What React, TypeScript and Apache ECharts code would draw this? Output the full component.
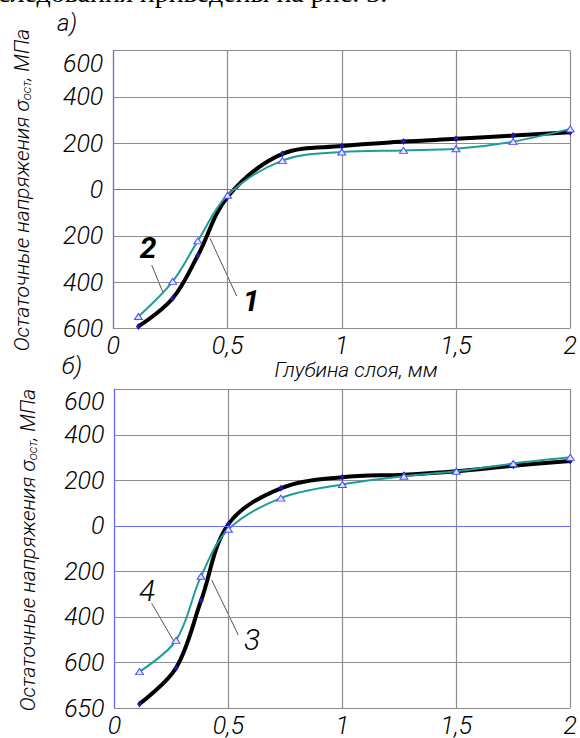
import React, { useEffect, useRef } from "react";
import * as echarts from "echarts";

// Panel а) — curves 1 (black) and 2 (teal)
const xTop = [0.11, 0.26, 0.37, 0.5, 0.74, 1.0, 1.27, 1.5, 1.75, 2.0];
const curve1 = [-592, -470, -285, -32, 154, 188, 207, 219, 233, 248];
const curve2 = [-549, -397, -222, -25, 125, 162, 169, 176, 207, 262];

// Panel б) — curves 3 (black) and 4 (teal); axis positions (bottom tick labelled 650)
const xBottom = [0.11, 0.27, 0.38, 0.5, 0.73, 1.0, 1.27, 1.5, 1.75, 2.0];
const curve3 = [-782, -624, -328, 8, 165, 214, 225, 240, 264, 285];
const curve4 = [-640, -503, -221, -15, 122, 182, 218, 240, 274, 301];

const xTicks = [0, 0.5, 1, 1.5, 2];
const topYTicks = [600, 400, 200, 0, 200, 400, 600];
const bottomYTicks = [600, 400, 200, 0, 200, 400, 600, 650];

const FONT = "Roboto, 'Liberation Sans Narrow', sans-serif";
const WEIGHT = 300;
const GRID_COLOR = "#8c8c8c";
const BLUE_AXIS = "#6b6bff";
const TEAL = "#1f9c9a";
const BLACK = "#000000";

const pair = (xs: number[], ys: number[]) => xs.map((x, i) => [x, ys[i]]);

export default function App() {
  const ref = useRef<HTMLDivElement>(null);
  useEffect(() => {
    if (!ref.current) return;
    const chart = echarts.init(ref.current, undefined, { renderer: "svg" });

    const labelStyle = {
      fontFamily: FONT,
      fontStyle: "italic" as const,
      fontWeight: WEIGHT,
      fontSize: 25,
      color: "#000",
    };

    const xAxisBase = (gi: number) => ({
      type: "value" as const,
      gridIndex: gi,
      min: 0,
      max: 2,
      interval: 0.5,
      axisLine: { show: true, lineStyle: { color: GRID_COLOR, width: 1.2 } },
      axisTick: { show: false },
      splitLine: { show: true, lineStyle: { color: GRID_COLOR, width: 1.2 } },
      axisLabel: {
        ...labelStyle,
        margin: 5,
        formatter: (v: number) => {
          const i = xTicks.indexOf(v);
          return i >= 0 ? String(xTicks[i]).replace(".", ",") : "";
        },
      },
    });

    const yAxisBase = (gi: number, min: number, labels: number[], shiftUp: boolean) => ({
      type: "value" as const,
      gridIndex: gi,
      min,
      max: 600,
      interval: 200,
      axisLine: { show: true, lineStyle: { color: BLUE_AXIS, width: 1.2 } },
      axisTick: { show: false },
      splitLine: { show: true, lineStyle: { color: GRID_COLOR, width: 1.2 } },
      axisLabel: {
        ...labelStyle,
        margin: 10,
        showMinLabel: true,
        showMaxLabel: true,
        hideOverlap: false,
        verticalAlignMaxLabel: "top",
        padding: shiftUp ? [0, 0, 14, 0] : 0,
        formatter: (v: number) => {
          const idx = Math.round((600 - v) / 200);
          return labels[idx] !== undefined ? String(labels[idx]) : "";
        },
      },
    });

    const zeroLine = {
      silent: true,
      symbol: "none",
      label: { show: false },
      lineStyle: { color: BLUE_AXIS, width: 1.2, type: "solid" },
      data: [{ yAxis: 0 }],
    };

    const blackSeries = (name: string, xs: number[], ys: number[], gi: number, withZero: boolean) => ({
      name,
      type: "line" as const,
      xAxisIndex: gi,
      yAxisIndex: gi,
      data: pair(xs, ys),
      smooth: 0.35,
      symbol: "diamond",
      symbolSize: [5, 7],
      itemStyle: { color: "#1a1aa8" },
      lineStyle: { color: BLACK, width: 4 },
      z: 3,
      ...(withZero ? { markLine: zeroLine } : {}),
    });

    const tealSeries = (name: string, xs: number[], ys: number[], gi: number) => ({
      name,
      type: "line" as const,
      xAxisIndex: gi,
      yAxisIndex: gi,
      data: pair(xs, ys),
      smooth: 0.35,
      symbol: "triangle",
      symbolSize: [8, 6],
      itemStyle: { color: "#dfe4ff", borderColor: "#4d4dff", borderWidth: 1 },
      lineStyle: { color: TEAL, width: 2 },
      z: 4,
    });

    const yName = (cx: number, cy: number) => ({
      type: "text",
      x: cx,
      y: cy,
      rotation: Math.PI / 2,
      style: {
        text: "Остаточные напряжения {s|σ}{sub|ост}, МПа",
        fontFamily: FONT,
        fontStyle: "italic",
        fontWeight: WEIGHT,
        fontSize: 21,
        fill: "#000",
        align: "center",
        verticalAlign: "middle",
        rich: {
          s: { fontFamily: FONT, fontStyle: "italic", fontWeight: WEIGHT, fontSize: 21, fill: "#000" },
          sub: { fontFamily: FONT, fontStyle: "italic", fontWeight: WEIGHT, fontSize: 13, fill: "#000", padding: [8, 0, 0, 0] },
        },
      },
    });

    const txt = (text: string, x: number, y: number, size: number, weight: any = WEIGHT) => ({
      type: "text",
      x,
      y,
      style: {
        text,
        fontFamily: FONT,
        fontStyle: "italic",
        fontWeight: weight,
        fontSize: size,
        fill: "#000",
        align: "center",
        verticalAlign: "middle",
      },
    });

    const leader = (x1: number, y1: number, x2: number, y2: number) => ({
      type: "line",
      shape: { x1, y1, x2, y2 },
      style: { stroke: "#555", lineWidth: 1 },
    });

    chart.setOption({
      animation: false,
      backgroundColor: "#ffffff",
      grid: [
        { left: 113.3, top: 50.7, right: 5, height: 277.6, containLabel: false },
        { left: 114.5, top: 389.3, right: 4, height: 324.7, containLabel: false },
      ],
      xAxis: [xAxisBase(0), xAxisBase(1)],
      yAxis: [yAxisBase(0, -600, topYTicks, false), yAxisBase(1, -800, bottomYTicks, true)],
      series: [
        blackSeries("1", xTop, curve1, 0, true),
        tealSeries("2", xTop, curve2, 0),
        blackSeries("3", xBottom, curve3, 1, true),
        tealSeries("4", xBottom, curve4, 1),
      ],
      graphic: [
        {
          type: "text",
          x: -2,
          y: -8,
          style: {
            text: "следования приведены на рис. 3.",
            fontFamily: "'Liberation Serif', 'Times New Roman', serif",
            fontSize: 28,
            fill: "#000",
            align: "left",
            verticalAlign: "middle",
          },
        },
        txt("а)", 67, 23, 24),
        txt("б)", 72, 366, 24),
        txt("Глубина слоя, мм", 356, 370, 21),
        yName(22, 190),
        yName(28, 550),
        leader(151.7, 265, 163.3, 293.3),
        leader(210, 238.3, 236.7, 296),
        txt("2", 148, 247, 30, "bold"),
        txt("1", 251, 300, 30, "bold"),
        leader(151.7, 603.3, 175, 643.3),
        leader(211.7, 580, 238.3, 635),
        txt("4", 147, 590, 30),
        txt("3", 252, 639, 30),
      ],
    });
    return () => chart.dispose();
  }, []);
  return (
    <div
      ref={ref}
      style={{ position: "absolute", left: 0, top: 0, width: 580, height: 738, background: "#fff" }}
    />
  );
}
